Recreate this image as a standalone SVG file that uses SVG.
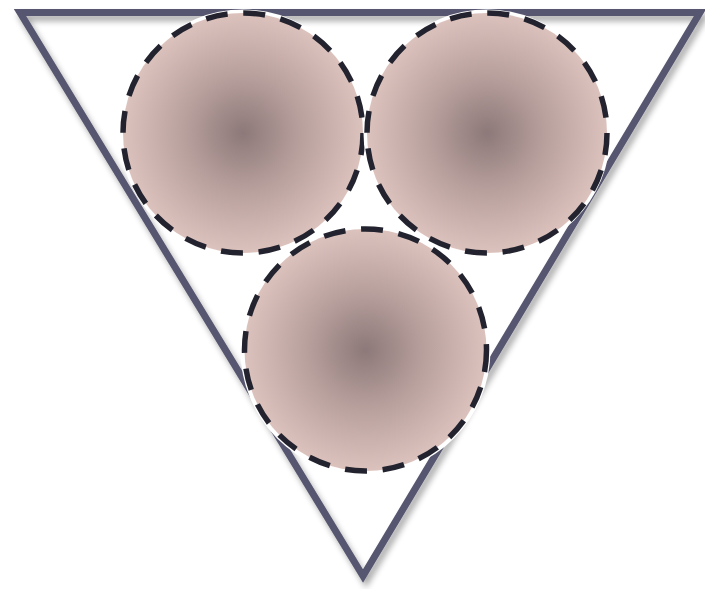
<svg xmlns="http://www.w3.org/2000/svg" width="705" height="589" viewBox="0 0 705 589">
  <defs>
    <radialGradient id="ball" cx="50%" cy="50%" r="50%">
      <stop offset="0" stop-color="#8d7979"/>
      <stop offset="0.5" stop-color="#b9a19e"/>
      <stop offset="1" stop-color="#dcc2bd"/>
    </radialGradient>
    <filter id="shadow" x="-10%" y="-10%" width="120%" height="120%">
      <feGaussianBlur in="SourceAlpha" stdDeviation="3"/>
      <feOffset dx="3" dy="5" result="b"/>
      <feComponentTransfer><feFuncA type="linear" slope="0.35"/></feComponentTransfer>
      <feMerge><feMergeNode/><feMergeNode in="SourceGraphic"/></feMerge>
    </filter>
  </defs>
  <style>
    .tri { fill: none; stroke: #56566f; stroke-width: 7; stroke-linejoin: miter; }
    .halo { fill: #ffffff; }
    .ball { fill: url(#ball); stroke: #23232f; stroke-width: 5.5; stroke-dasharray: 22 15.7; }
  </style>
  <g id="triangle" filter="url(#shadow)">
    <polygon class="tri" points="20,12.5 700,12.5 363,576"/>
  </g>
  <g id="circle1">
    <circle class="halo" cx="243" cy="133" r="123.5"/>
    <circle class="ball" cx="243" cy="133" r="120"/>
  </g>
  <g id="circle2">
    <circle class="halo" cx="487" cy="133" r="123.5"/>
    <circle class="ball" cx="487" cy="133" r="120"/>
  </g>
  <g id="circle3">
    <circle class="halo" cx="365.5" cy="350" r="125"/>
    <circle class="ball" cx="365.5" cy="350" r="121"/>
  </g>
</svg>
